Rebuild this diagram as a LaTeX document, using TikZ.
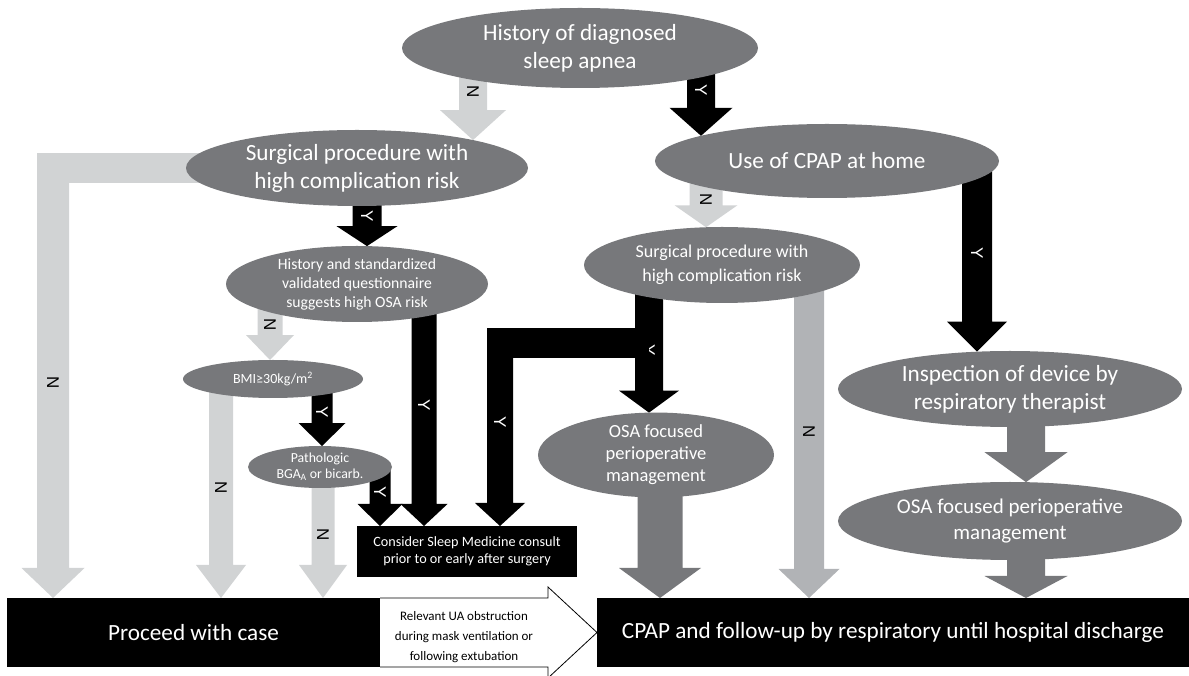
\documentclass[tikz,border=0pt]{standalone}
\usepackage{fontspec}
\setmainfont{Carlito}
\newfontfamily\ynfont{Liberation Sans}
\usetikzlibrary{shapes.geometric,calc,backgrounds}

\definecolor{ellgray}{HTML}{77787B}
\definecolor{lgray}{HTML}{D1D3D4}
\definecolor{mgray}{HTML}{B1B3B6}

% 竖直块状箭头：从节点 #2 到椭圆节点 #3 的边界（x = #4）
\newcommand{\dropell}[7]{%
  \fill[#1] let \p1=(#2.center), \p2=(#3.center), \p3=(#3.north), \p4=(#3.east),
    \n1={\y2+(\y3-\y2)*sqrt(1-((#4pt-\x2)/(\x4-\x2))^2)} in
    ({#4pt-#5pt/2},\y1) -- ({#4pt+#5pt/2},\y1) -- ({#4pt+#5pt/2},{\n1+#7pt})
    -- ({#4pt+#6pt/2},{\n1+#7pt}) -- (#4pt,\n1) -- ({#4pt-#6pt/2},{\n1+#7pt})
    -- ({#4pt-#5pt/2},{\n1+#7pt}) -- cycle;}
% 竖直块状箭头：从节点 #2 到矩形节点 #3 的上边
\newcommand{\dropbox}[7]{%
  \fill[#1] let \p1=(#2.center), \p3=(#3.north) in
    ({#4pt-#5pt/2},\y1) -- ({#4pt+#5pt/2},\y1) -- ({#4pt+#5pt/2},{\y3+#7pt})
    -- ({#4pt+#6pt/2},{\y3+#7pt}) -- (#4pt,\y3) -- ({#4pt-#6pt/2},{\y3+#7pt})
    -- ({#4pt-#5pt/2},{\y3+#7pt}) -- cycle;}

\begin{document}
\begin{tikzpicture}[x=1pt, y=1pt,
    oval/.style={ellipse, fill=ellgray, text=white, align=center, inner sep=0pt, outer sep=0pt},
    blk/.style={rectangle, fill=black, text=white, align=center, inner sep=0pt, outer sep=0pt},
    big/.style={font=\fontsize{23.2}{28}\selectfont},
    ylab/.style={rotate=-90, font=\ynfont\fontsize{17}{17}\selectfont, text=white, inner sep=0pt},
    nlab/.style={ylab, text=black}]
  \useasboundingbox (0,0) rectangle (1189,675);

  % ================= 判断节点 =================
  \node[oval, big, minimum width=356, minimum height=80] (hist) at (580,627) {History of diagnosed\\sleep apnea};
  \node[oval, big, minimum width=342, minimum height=76] (surgL) at (357,507) {Surgical procedure with\\high complication risk};
  \node[oval, big, minimum width=344, minimum height=74] (cpapHome) at (827,514) {Use of CPAP at home};
  \node[oval, font=\fontsize{15.7}{19}\selectfont, minimum width=262, minimum height=76] (quest) at (357,391)
    {History and standardized\\validated questionnaire\\suggests high OSA risk};
  \node[oval, font=\fontsize{18}{24}\selectfont, minimum width=276, minimum height=76] (surgR) at (722,410)
    {Surgical procedure with\\high complication risk};
  \node[oval, font=\fontsize{14}{17}\selectfont, minimum width=180, minimum height=38] (bmi) at (273,296) {BMI≥30kg/m\textsuperscript{2}};
  \node[oval, font=\fontsize{13.8}{16}\selectfont, minimum width=144, minimum height=42] (patho) at (320,208)
    {Pathologic\\BGA\textsubscript{A} or bicarb.};
  \node[oval, font=\fontsize{18.5}{22}\selectfont, minimum width=236, minimum height=84] (osaM) at (656,220)
    {OSA focused\\perioperative\\management};
  \node[oval, big, minimum width=344, minimum height=76] (insp) at (1010,286) {Inspection of device by\\respiratory therapist};
  \node[oval, font=\fontsize{21}{26}\selectfont, minimum width=344, minimum height=78] (osaR) at (1010,154)
    {OSA focused perioperative\\management};

  % ================= 结果方框 =================
  \node[blk, font=\fontsize{14.2}{17}\selectfont, minimum width=220, minimum height=51] (consider) at (467,123.5)
    {Consider Sleep Medicine consult\\prior to or early after surgery};
  \node[blk, big, minimum width=373, minimum height=69] (proceed) at (193.5,42.5) {Proceed with case};
  \node[blk, big, minimum width=592, minimum height=69] (cpapBox) at (893,42.5)
    {CPAP and follow-up by respiratory until hospital discharge};

  % 白色转移箭头
  \draw[fill=white, line width=0.8pt, line join=miter] (proceed.north east) -- (548,77) -- (548,88)
    -- (cpapBox.west) -- (548,-3) -- (548,8) -- (proceed.south east);
  \node[font=\fontsize{13}{20}\selectfont, align=center, inner sep=0pt] (relTxt) at (464,38)
    {Relevant UA obstruction\\during mask ventilation or\\following extubation};

  % ================= 块状箭头 (置于底层) =================
  \begin{scope}[on background layer]
    % 顶部判断
    \dropell{lgray}{hist}{surgL}{473}{28}{66}{30}
    \node[nlab] (n1) at (473,583) {N};
    \dropell{black}{hist}{cpapHome}{701}{28}{63}{28}
    \node[ylab] (y1) at (701,585) {Y};

    % 左侧：低风险手术 -> 直接进行
    \coordinate (nBend) at (53,507);
    \draw[lgray, line width=30pt] (surgL.center) -- ([xshift=-16pt]nBend);
    \dropbox{lgray}{nBend}{proceed}{53}{32}{63}{30}
    \node[nlab] (n2) at (53,292) {N};

    \dropell{black}{surgL}{quest}{367}{29}{61}{20}
    \node[ylab] (y2) at (367,459) {Y};
    \dropell{lgray}{quest}{bmi}{270}{25}{48}{25}
    \node[nlab] (n3) at (270,350) {N};
    \dropell{black}{bmi}{patho}{322}{21}{47}{23}
    \node[ylab] (y3) at (322,263) {Y};
    \dropbox{lgray}{bmi}{proceed}{221}{24}{50}{33}
    \node[nlab] (n4) at (221,187) {N};
    \dropbox{lgray}{patho}{proceed}{323}{23}{48}{33}
    \node[nlab] (n5) at (323,140) {N};
    \dropbox{black}{patho}{consider}{380}{21}{45}{22}
    \node[ylab] (y4) at (380,183) {Y};
    \dropbox{black}{quest}{consider}{424}{25}{47}{22}
    \node[ylab] (y5) at (424,270) {Y};

    % 中间：高风险手术 -> OSA 管理 + 睡眠医学会诊
    \dropell{black}{surgR}{osaM}{649}{28}{60}{22}
    \node[ylab] (y6) at (649,325) {Y};
    \coordinate (ySplit) at (649,332);
    \coordinate (yBend) at (500,332);
    \draw[black, line width=30pt] (ySplit) -- ([xshift=-13pt]yBend);
    \dropbox{black}{yBend}{consider}{500}{26}{50}{23}
    \node[ylab] (y7) at (500,253) {Y};

    \dropell{lgray}{cpapHome}{surgR}{706}{33}{63}{22}
    \node[nlab] (n6) at (706,475) {N};
    \dropbox{mgray}{surgR}{cpapBox}{809}{30}{61}{29}
    \node[nlab] (n7) at (809,243) {N};
    \dropbox{ellgray}{osaM}{cpapBox}{660}{45}{82}{30}

    % 右侧：家用 CPAP
    \dropell{black}{cpapHome}{insp}{977}{30}{60}{30}
    \node[ylab] (y8) at (977,422) {Y};
    \dropell{ellgray}{insp}{osaR}{1026}{38}{83}{30}
    \dropbox{ellgray}{osaR}{cpapBox}{1026}{38}{83}{22}
  \end{scope}

\end{tikzpicture}
\end{document}
